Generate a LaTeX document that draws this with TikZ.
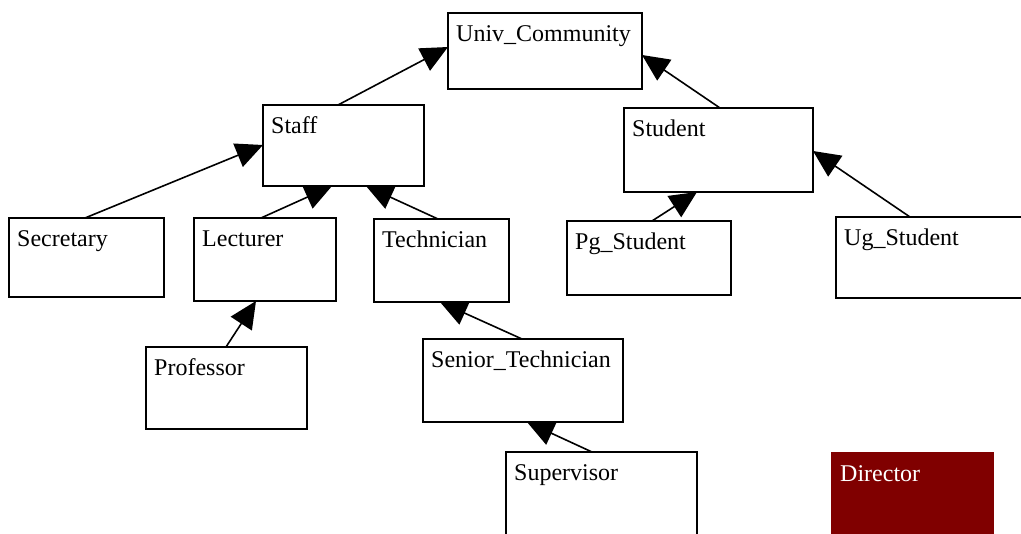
\documentclass[tikz,border=0pt]{standalone}
\usepackage{fontspec}
\setmainfont{Liberation Serif}
\usetikzlibrary{arrows.meta}
\tikzset{
  box/.style={draw, line width=1.8pt, fill=white, rectangle, anchor=north west,
    outer sep=0pt, inner sep=0pt},
  cls/.style={box, label={[lbl]north west:#1}},
  lbl/.style={anchor=base west, inner sep=0pt, xshift=8pt, yshift=-28.5pt,
    font=\fontsize{24}{28}\selectfont},
  sz/.style 2 args={minimum width=#1pt, minimum height=#2pt}
}
\definecolor{maroon}{HTML}{800000}
\begin{document}
\begin{tikzpicture}[x=1pt,y=-1pt]
      \fill[white] (0,0) rectangle (1021,534);
      \useasboundingbox (0,0) rectangle (1021,534);
      \draw
        (448,13) node[cls=Univ\_Community, sz={194}{76}] (univ){}
        (263,105) node[cls=Staff, sz={161}{81}] (staff){}
        (624,108) node[cls=Student, sz={189}{84}] (student){}
        (9,218) node[cls=Secretary, sz={155}{79}] (secretary){}
        (194,218) node[cls=Lecturer, sz={142}{83}] (lecturer){}
        (374,219) node[cls=Technician, sz={135}{83}] (technician){}
        (567,221) node[cls=Pg\_Student, sz={164}{74}] (pgstudent){}
        (836,217) node[cls=Ug\_Student, sz={188}{81}] (ugstudent){}
        (146,347) node[cls=Professor, sz={161}{82}] (professor){}
        (423,339) node[cls=Senior\_Technician, sz={200}{83}] (seniortech){}
        (506,452) node[cls=Supervisor, sz={191}{92}] (supervisor){}
        (832,453) node[box, sz={161}{92}, draw=maroon, fill=maroon,
          label={[lbl, text=white]north west:Director}] (director){};
      \begin{scope}[-{Triangle[length=27pt,width=25pt]}, line width=1.6pt]
        \draw ([shift={(75,0)}]staff.north west) to ([shift={(0,34)}]univ.north west);
        \draw ([shift={(96,0)}]student.north west) to ([shift={(0,42)}]univ.north east);
        \draw ([shift={(76,0)}]secretary.north west) to ([shift={(0,40)}]staff.north west);
        \draw ([shift={(67,0)}]lecturer.north west) to ([shift={(69,0)}]staff.south west);
        \draw ([shift={(64,0)}]technician.north west) to ([shift={(103,0)}]staff.south west);
        \draw ([shift={(80,0)}]professor.north west) to ([shift={(62,0)}]lecturer.south west);
        \draw ([shift={(99,0)}]seniortech.north west) to ([shift={(66,0)}]technician.south west);
        \draw ([shift={(86,0)}]supervisor.north west) to ([shift={(104,0)}]seniortech.south west);
        \draw ([shift={(85,0)}]pgstudent.north west) to ([shift={(73,0)}]student.south west);
        \draw ([shift={(74,0)}]ugstudent.north west) to ([shift={(0,43)}]student.north east);
      \end{scope}
    \end{tikzpicture}
\end{document}
